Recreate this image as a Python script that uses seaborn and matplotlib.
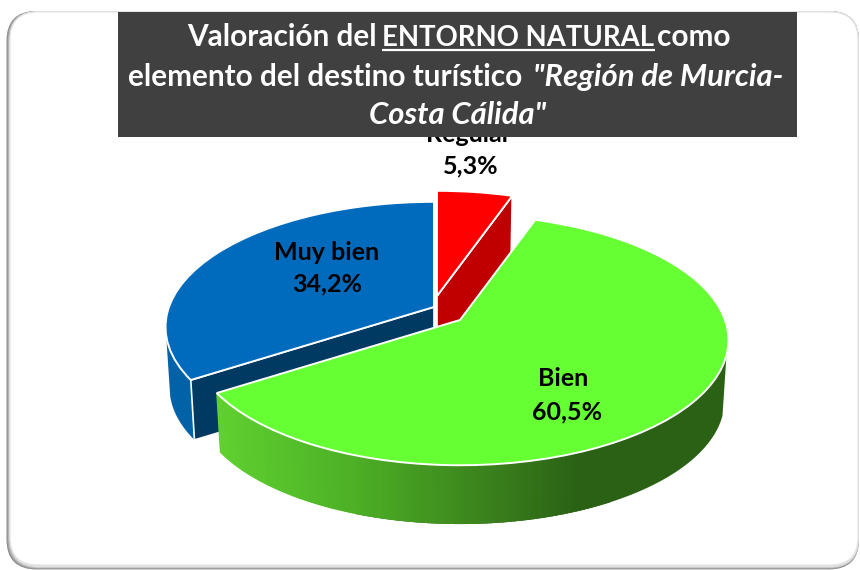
import numpy as np
import matplotlib
matplotlib.use("Agg")
import matplotlib.pyplot as plt
import matplotlib.transforms as mtransforms
from matplotlib.patches import FancyBboxPatch, Rectangle
import seaborn as sns

# Data
categories = ["Regular", "Bien", "Muy bien"]
values = [5.3, 60.5, 34.2]
colors = ["#ff0000", "#66ff33", "#006bbd"]

# Layout, in pixels
SLICE_CENTERS = [(437, 296), (460, 320), (434, 307)]
LABEL_NAME_POS = [(469, 134), (563, 379), (327, 252)]
LABEL_VALUE_POS = [(471, 166), (567, 412), (327, 284)]
RADIUS_X = 265
RADIUS_Y = 122
PERSPECTIVE = 0.16
DEPTH = 61
BOTTOM_SCALE = 0.985


class PieProjection(mtransforms.Transform):
    '''
    Tilts the flat unit pie into the pixel space of the axes.
    '''
    input_dims = 2
    output_dims = 2
    is_separable = False
    has_inverse = False

    def __init__(self, center):
        super().__init__()
        self.center = center

    def transform_non_affine(self, values):
        values = np.asarray(values, dtype=float)
        w = 1 + PERSPECTIVE * values[:, 1]
        x = self.center[0] + RADIUS_X * values[:, 0] / w
        y = self.center[1] - RADIUS_Y * values[:, 1] / w
        return np.column_stack([x, y])


def rim(center, angles, bottom=False):
    '''
    Pixel points of a slice border, angles clockwise from 12 o'clock.

    :param center: pixel position of the slice vertex
    :param angles: angles in degrees
    :param bottom: True for the lower face of the slice
    :return: array of points
    '''
    a = np.radians(angles)
    pts = np.column_stack([np.sin(a), np.cos(a)])
    pts = PieProjection(center).transform_non_affine(pts)
    if bottom:
        pts = np.array(center) + (pts - np.array(center)) * BOTTOM_SCALE
        pts[:, 1] += DEPTH
    return pts


def wall(ax, center, start, end, color, zorder):
    outer = np.vstack([rim(center, np.linspace(start, end, 60)),
                       rim(center, np.linspace(end, start, 60), bottom=True)])
    ax.fill(outer[:, 0], outer[:, 1], color=color, lw=0, zorder=zorder)


def cut_face(ax, center, angle, color, zorder):
    top = rim(center, [angle])[0]
    low = rim(center, [angle], bottom=True)[0]
    ax.fill([center[0], top[0], low[0], center[0]],
            [center[1], top[1], low[1], center[1] + DEPTH],
            facecolor=color, edgecolor="white", lw=1.2, zorder=zorder)


sns.set_theme(style="white")
plt.rcParams["font.family"] = ["Lato", "DejaVu Sans"]

fig = plt.figure(figsize=(8.6, 5.7), dpi=100)
ax = fig.add_axes([0, 0, 1, 1])

wedges, _ = ax.pie(values, startangle=90, counterclock=False, colors=colors,
                   wedgeprops={"edgecolor": "white", "linewidth": 1.4})
ax.set_aspect("auto")
ax.set_xlim(0, 860)
ax.set_ylim(570, 0)
ax.axis("off")

# Frame with its soft shadow
for off, shade in [(3.5, "#8c8c8c"), (2.5, "#a6a6a6"), (1.5, "#c4c4c4"), (0.5, "#e0e0e0")]:
    ax.add_patch(FancyBboxPatch((10 - off, 11), 849 + off, 556 + off * 0.7,
                                boxstyle="round,pad=0,rounding_size=30",
                                fc=shade, ec="none", zorder=0))
ax.add_patch(FancyBboxPatch((10, 12), 848, 553,
                            boxstyle="round,pad=0,rounding_size=28",
                            fc="white", ec="#e4e4e4", lw=0.8, zorder=0.5))

angles = np.cumsum([0] + values) * 3.6

# Muy bien
wall(ax, SLICE_CENTERS[2], angles[2], angles[2] + 20, "#0262a8", 1)
cut_face(ax, SLICE_CENTERS[2], angles[2], "#003a63", 1.5)
wedges[2].set_transform(PieProjection(SLICE_CENTERS[2]) + ax.transData)
wedges[2].set_zorder(2)

# Regular
cut_face(ax, SLICE_CENTERS[0], angles[1], "#c00000", 2.5)
wedges[0].set_transform(PieProjection(SLICE_CENTERS[0]) + ax.transData)
wedges[0].set_zorder(3)

# Bien, the wall goes from light on the left to dark on the right
wall(ax, SLICE_CENTERS[1], 106, 200, "#2a6115", 3.4)
steps = np.linspace(150, angles[2], 120)
ramp = sns.blend_palette(["#5fd030", "#4db026", "#3a801c", "#2a6115"], 100)
for a0, a1 in zip(steps[:-1], steps[1:]):
    mid_x = rim(SLICE_CENTERS[1], [(a0 + a1) / 2])[0][0]
    col = ramp[int(np.interp(mid_x, [218, 350, 490, 580], [0, 33, 66, 99]))]
    seg = np.vstack([rim(SLICE_CENTERS[1], [a0, a1 + 0.3]),
                     rim(SLICE_CENTERS[1], [a1 + 0.3, a0], bottom=True)])
    ax.fill(seg[:, 0], seg[:, 1], color=col, lw=0, zorder=3.5)
wedges[1].set_transform(PieProjection(SLICE_CENTERS[1]) + ax.transData)
wedges[1].set_zorder(4)

# Labels
for name, val, p_name, p_val in zip(categories, values, LABEL_NAME_POS, LABEL_VALUE_POS):
    ax.text(p_name[0], p_name[1], name, ha="center", va="center", fontsize=18,
            fontweight="bold", color="black", zorder=5)
    ax.text(p_val[0], p_val[1], f"{val:.1f}%".replace(".", ","), ha="center", va="center",
            fontsize=18, fontweight="bold", color="black", zorder=5)

# Title box
ax.add_patch(Rectangle((118, 12), 679, 125, fc="#404040", ec="none", zorder=10))
title_style = {"color": "white", "fontsize": 21.4, "fontweight": "bold", "va": "baseline", "zorder": 11}
ax.text(187, 46, "Valoración del", ha="left", **title_style)
ax.text(382, 46, "ENTORNO NATURAL", ha="left", **{**title_style, "fontsize": 19.8})
ax.plot([382, 655], [50, 50], color="white", lw=1.6, zorder=11, solid_capstyle="butt")
ax.text(657, 46, "como", ha="left", **title_style)
ax.text(128, 86, "elemento del destino turístico", ha="left", **title_style)
ax.text(533, 86, "\"Región de Murcia-", ha="left", style="italic", **{**title_style, "fontsize": 22.3})
ax.text(369, 124, "Costa Cálida\"", ha="left", style="italic", **{**title_style, "fontsize": 22.3})

fig.savefig("out.png", dpi=100)
